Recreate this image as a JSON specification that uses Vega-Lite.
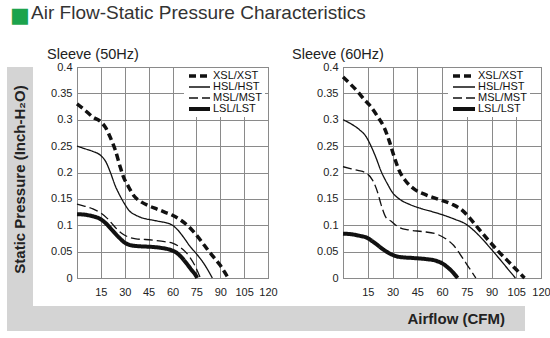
{
  "$schema": "https://vega.github.io/schema/vega-lite/v6.json",
  "padding": {"left": 7, "top": 4, "right": 0, "bottom": 5},
  "background": "white",
  "config": {"font": "Liberation Sans", "view": {"stroke": "#666"}},
  "title": {
    "text": "\u25a0",
    "subtitle": "\u200b\u00a0\u00a0\u00a0\u00a0Air Flow-Static Pressure Characteristics",
    "anchor": "start",
    "font": "DejaVu Sans",
    "fontSize": 21,
    "fontWeight": "normal",
    "color": "#1ca34c",
    "subtitleFont": "Liberation Sans",
    "subtitleFontSize": 19,
    "subtitleColor": "#333333",
    "subtitlePadding": -22,
    "offset": 19,
    "baseline": "top",
    "dx": 3
  },
  "datasets": {
    "curves": [
      {"panel": "50", "series": "XSL/XST", "airflow": 0, "pressure": 0.33},
      {"panel": "50", "series": "XSL/XST", "airflow": 5, "pressure": 0.318},
      {"panel": "50", "series": "XSL/XST", "airflow": 10, "pressure": 0.305},
      {"panel": "50", "series": "XSL/XST", "airflow": 15, "pressure": 0.296},
      {"panel": "50", "series": "XSL/XST", "airflow": 18, "pressure": 0.285},
      {"panel": "50", "series": "XSL/XST", "airflow": 21, "pressure": 0.266},
      {"panel": "50", "series": "XSL/XST", "airflow": 24, "pressure": 0.243},
      {"panel": "50", "series": "XSL/XST", "airflow": 27, "pressure": 0.212},
      {"panel": "50", "series": "XSL/XST", "airflow": 29, "pressure": 0.193},
      {"panel": "50", "series": "XSL/XST", "airflow": 32, "pressure": 0.175},
      {"panel": "50", "series": "XSL/XST", "airflow": 36, "pressure": 0.155},
      {"panel": "50", "series": "XSL/XST", "airflow": 40, "pressure": 0.145},
      {"panel": "50", "series": "XSL/XST", "airflow": 45, "pressure": 0.137},
      {"panel": "50", "series": "XSL/XST", "airflow": 50, "pressure": 0.131},
      {"panel": "50", "series": "XSL/XST", "airflow": 55, "pressure": 0.125},
      {"panel": "50", "series": "XSL/XST", "airflow": 60, "pressure": 0.119},
      {"panel": "50", "series": "XSL/XST", "airflow": 65, "pressure": 0.11},
      {"panel": "50", "series": "XSL/XST", "airflow": 70, "pressure": 0.098},
      {"panel": "50", "series": "XSL/XST", "airflow": 74, "pressure": 0.085},
      {"panel": "50", "series": "XSL/XST", "airflow": 78, "pressure": 0.07},
      {"panel": "50", "series": "XSL/XST", "airflow": 82, "pressure": 0.054},
      {"panel": "50", "series": "XSL/XST", "airflow": 86, "pressure": 0.039},
      {"panel": "50", "series": "XSL/XST", "airflow": 90, "pressure": 0.024},
      {"panel": "50", "series": "XSL/XST", "airflow": 93, "pressure": 0.01},
      {"panel": "50", "series": "XSL/XST", "airflow": 95, "pressure": 0},
      {"panel": "50", "series": "HSL/HST", "airflow": 0, "pressure": 0.25},
      {"panel": "50", "series": "HSL/HST", "airflow": 5, "pressure": 0.245},
      {"panel": "50", "series": "HSL/HST", "airflow": 10, "pressure": 0.24},
      {"panel": "50", "series": "HSL/HST", "airflow": 15, "pressure": 0.232},
      {"panel": "50", "series": "HSL/HST", "airflow": 18, "pressure": 0.221},
      {"panel": "50", "series": "HSL/HST", "airflow": 21, "pressure": 0.2},
      {"panel": "50", "series": "HSL/HST", "airflow": 24, "pressure": 0.175},
      {"panel": "50", "series": "HSL/HST", "airflow": 27, "pressure": 0.156},
      {"panel": "50", "series": "HSL/HST", "airflow": 30, "pressure": 0.14},
      {"panel": "50", "series": "HSL/HST", "airflow": 33, "pressure": 0.127},
      {"panel": "50", "series": "HSL/HST", "airflow": 37, "pressure": 0.119},
      {"panel": "50", "series": "HSL/HST", "airflow": 42, "pressure": 0.113},
      {"panel": "50", "series": "HSL/HST", "airflow": 47, "pressure": 0.11},
      {"panel": "50", "series": "HSL/HST", "airflow": 52, "pressure": 0.107},
      {"panel": "50", "series": "HSL/HST", "airflow": 57, "pressure": 0.104},
      {"panel": "50", "series": "HSL/HST", "airflow": 60, "pressure": 0.1},
      {"panel": "50", "series": "HSL/HST", "airflow": 63, "pressure": 0.092},
      {"panel": "50", "series": "HSL/HST", "airflow": 67, "pressure": 0.077},
      {"panel": "50", "series": "HSL/HST", "airflow": 71, "pressure": 0.06},
      {"panel": "50", "series": "HSL/HST", "airflow": 75, "pressure": 0.046},
      {"panel": "50", "series": "HSL/HST", "airflow": 80, "pressure": 0.026},
      {"panel": "50", "series": "HSL/HST", "airflow": 83, "pressure": 0.011},
      {"panel": "50", "series": "HSL/HST", "airflow": 85, "pressure": 0},
      {"panel": "50", "series": "MSL/MST", "airflow": 0, "pressure": 0.14},
      {"panel": "50", "series": "MSL/MST", "airflow": 5, "pressure": 0.136},
      {"panel": "50", "series": "MSL/MST", "airflow": 10, "pressure": 0.131},
      {"panel": "50", "series": "MSL/MST", "airflow": 15, "pressure": 0.123},
      {"panel": "50", "series": "MSL/MST", "airflow": 19, "pressure": 0.113},
      {"panel": "50", "series": "MSL/MST", "airflow": 22, "pressure": 0.103},
      {"panel": "50", "series": "MSL/MST", "airflow": 25, "pressure": 0.093},
      {"panel": "50", "series": "MSL/MST", "airflow": 28, "pressure": 0.085},
      {"panel": "50", "series": "MSL/MST", "airflow": 32, "pressure": 0.078},
      {"panel": "50", "series": "MSL/MST", "airflow": 37, "pressure": 0.074},
      {"panel": "50", "series": "MSL/MST", "airflow": 43, "pressure": 0.073},
      {"panel": "50", "series": "MSL/MST", "airflow": 50, "pressure": 0.071},
      {"panel": "50", "series": "MSL/MST", "airflow": 55, "pressure": 0.069},
      {"panel": "50", "series": "MSL/MST", "airflow": 60, "pressure": 0.066},
      {"panel": "50", "series": "MSL/MST", "airflow": 64, "pressure": 0.06},
      {"panel": "50", "series": "MSL/MST", "airflow": 68, "pressure": 0.05},
      {"panel": "50", "series": "MSL/MST", "airflow": 71, "pressure": 0.039},
      {"panel": "50", "series": "MSL/MST", "airflow": 74, "pressure": 0.024},
      {"panel": "50", "series": "MSL/MST", "airflow": 76, "pressure": 0.011},
      {"panel": "50", "series": "MSL/MST", "airflow": 77.5, "pressure": 0},
      {"panel": "50", "series": "LSL/LST", "airflow": 0, "pressure": 0.121},
      {"panel": "50", "series": "LSL/LST", "airflow": 5, "pressure": 0.12},
      {"panel": "50", "series": "LSL/LST", "airflow": 10, "pressure": 0.117},
      {"panel": "50", "series": "LSL/LST", "airflow": 14, "pressure": 0.113},
      {"panel": "50", "series": "LSL/LST", "airflow": 18, "pressure": 0.104},
      {"panel": "50", "series": "LSL/LST", "airflow": 22, "pressure": 0.091},
      {"panel": "50", "series": "LSL/LST", "airflow": 26, "pressure": 0.078},
      {"panel": "50", "series": "LSL/LST", "airflow": 30, "pressure": 0.067},
      {"panel": "50", "series": "LSL/LST", "airflow": 34, "pressure": 0.062},
      {"panel": "50", "series": "LSL/LST", "airflow": 40, "pressure": 0.06},
      {"panel": "50", "series": "LSL/LST", "airflow": 47, "pressure": 0.059},
      {"panel": "50", "series": "LSL/LST", "airflow": 53, "pressure": 0.057},
      {"panel": "50", "series": "LSL/LST", "airflow": 58, "pressure": 0.054},
      {"panel": "50", "series": "LSL/LST", "airflow": 62, "pressure": 0.049},
      {"panel": "50", "series": "LSL/LST", "airflow": 66, "pressure": 0.038},
      {"panel": "50", "series": "LSL/LST", "airflow": 69, "pressure": 0.027},
      {"panel": "50", "series": "LSL/LST", "airflow": 72, "pressure": 0.015},
      {"panel": "50", "series": "LSL/LST", "airflow": 75, "pressure": 0.003},
      {"panel": "50", "series": "LSL/LST", "airflow": 75.5, "pressure": 0},
      {"panel": "60", "series": "XSL/XST", "airflow": 0, "pressure": 0.381},
      {"panel": "60", "series": "XSL/XST", "airflow": 5, "pressure": 0.366},
      {"panel": "60", "series": "XSL/XST", "airflow": 9, "pressure": 0.353},
      {"panel": "60", "series": "XSL/XST", "airflow": 13, "pressure": 0.338},
      {"panel": "60", "series": "XSL/XST", "airflow": 16, "pressure": 0.328},
      {"panel": "60", "series": "XSL/XST", "airflow": 21, "pressure": 0.306},
      {"panel": "60", "series": "XSL/XST", "airflow": 25, "pressure": 0.285},
      {"panel": "60", "series": "XSL/XST", "airflow": 28, "pressure": 0.26},
      {"panel": "60", "series": "XSL/XST", "airflow": 31, "pressure": 0.23},
      {"panel": "60", "series": "XSL/XST", "airflow": 34, "pressure": 0.204},
      {"panel": "60", "series": "XSL/XST", "airflow": 38, "pressure": 0.184},
      {"panel": "60", "series": "XSL/XST", "airflow": 43, "pressure": 0.169},
      {"panel": "60", "series": "XSL/XST", "airflow": 50, "pressure": 0.158},
      {"panel": "60", "series": "XSL/XST", "airflow": 58, "pressure": 0.149},
      {"panel": "60", "series": "XSL/XST", "airflow": 66, "pressure": 0.14},
      {"panel": "60", "series": "XSL/XST", "airflow": 72, "pressure": 0.129},
      {"panel": "60", "series": "XSL/XST", "airflow": 77, "pressure": 0.113},
      {"panel": "60", "series": "XSL/XST", "airflow": 82, "pressure": 0.094},
      {"panel": "60", "series": "XSL/XST", "airflow": 88, "pressure": 0.072},
      {"panel": "60", "series": "XSL/XST", "airflow": 94, "pressure": 0.051},
      {"panel": "60", "series": "XSL/XST", "airflow": 100, "pressure": 0.032},
      {"panel": "60", "series": "XSL/XST", "airflow": 105, "pressure": 0.016},
      {"panel": "60", "series": "XSL/XST", "airflow": 110, "pressure": 0},
      {"panel": "60", "series": "HSL/HST", "airflow": 0, "pressure": 0.3},
      {"panel": "60", "series": "HSL/HST", "airflow": 5, "pressure": 0.292},
      {"panel": "60", "series": "HSL/HST", "airflow": 10, "pressure": 0.281},
      {"panel": "60", "series": "HSL/HST", "airflow": 14, "pressure": 0.268},
      {"panel": "60", "series": "HSL/HST", "airflow": 17, "pressure": 0.25},
      {"panel": "60", "series": "HSL/HST", "airflow": 20, "pressure": 0.228},
      {"panel": "60", "series": "HSL/HST", "airflow": 23, "pressure": 0.203},
      {"panel": "60", "series": "HSL/HST", "airflow": 27, "pressure": 0.178},
      {"panel": "60", "series": "HSL/HST", "airflow": 30, "pressure": 0.162},
      {"panel": "60", "series": "HSL/HST", "airflow": 34, "pressure": 0.15},
      {"panel": "60", "series": "HSL/HST", "airflow": 40, "pressure": 0.14},
      {"panel": "60", "series": "HSL/HST", "airflow": 48, "pressure": 0.131},
      {"panel": "60", "series": "HSL/HST", "airflow": 56, "pressure": 0.124},
      {"panel": "60", "series": "HSL/HST", "airflow": 62, "pressure": 0.118},
      {"panel": "60", "series": "HSL/HST", "airflow": 68, "pressure": 0.111},
      {"panel": "60", "series": "HSL/HST", "airflow": 74, "pressure": 0.103},
      {"panel": "60", "series": "HSL/HST", "airflow": 80, "pressure": 0.088},
      {"panel": "60", "series": "HSL/HST", "airflow": 85, "pressure": 0.072},
      {"panel": "60", "series": "HSL/HST", "airflow": 90, "pressure": 0.054},
      {"panel": "60", "series": "HSL/HST", "airflow": 96, "pressure": 0.032},
      {"panel": "60", "series": "HSL/HST", "airflow": 101, "pressure": 0.013},
      {"panel": "60", "series": "HSL/HST", "airflow": 104.5, "pressure": 0},
      {"panel": "60", "series": "MSL/MST", "airflow": 0, "pressure": 0.211},
      {"panel": "60", "series": "MSL/MST", "airflow": 5, "pressure": 0.207},
      {"panel": "60", "series": "MSL/MST", "airflow": 9, "pressure": 0.204},
      {"panel": "60", "series": "MSL/MST", "airflow": 14, "pressure": 0.199},
      {"panel": "60", "series": "MSL/MST", "airflow": 18, "pressure": 0.185},
      {"panel": "60", "series": "MSL/MST", "airflow": 21, "pressure": 0.162},
      {"panel": "60", "series": "MSL/MST", "airflow": 23, "pressure": 0.14},
      {"panel": "60", "series": "MSL/MST", "airflow": 26, "pressure": 0.115},
      {"panel": "60", "series": "MSL/MST", "airflow": 29, "pressure": 0.108},
      {"panel": "60", "series": "MSL/MST", "airflow": 34, "pressure": 0.096},
      {"panel": "60", "series": "MSL/MST", "airflow": 40, "pressure": 0.091},
      {"panel": "60", "series": "MSL/MST", "airflow": 48, "pressure": 0.088},
      {"panel": "60", "series": "MSL/MST", "airflow": 56, "pressure": 0.084},
      {"panel": "60", "series": "MSL/MST", "airflow": 62, "pressure": 0.075},
      {"panel": "60", "series": "MSL/MST", "airflow": 67, "pressure": 0.062},
      {"panel": "60", "series": "MSL/MST", "airflow": 71, "pressure": 0.045},
      {"panel": "60", "series": "MSL/MST", "airflow": 75, "pressure": 0.026},
      {"panel": "60", "series": "MSL/MST", "airflow": 78, "pressure": 0.012},
      {"panel": "60", "series": "MSL/MST", "airflow": 80.5, "pressure": 0},
      {"panel": "60", "series": "LSL/LST", "airflow": 0, "pressure": 0.084},
      {"panel": "60", "series": "LSL/LST", "airflow": 5, "pressure": 0.083},
      {"panel": "60", "series": "LSL/LST", "airflow": 10, "pressure": 0.08},
      {"panel": "60", "series": "LSL/LST", "airflow": 14, "pressure": 0.077},
      {"panel": "60", "series": "LSL/LST", "airflow": 19, "pressure": 0.067},
      {"panel": "60", "series": "LSL/LST", "airflow": 24, "pressure": 0.055},
      {"panel": "60", "series": "LSL/LST", "airflow": 28, "pressure": 0.047},
      {"panel": "60", "series": "LSL/LST", "airflow": 34, "pressure": 0.04},
      {"panel": "60", "series": "LSL/LST", "airflow": 42, "pressure": 0.038},
      {"panel": "60", "series": "LSL/LST", "airflow": 50, "pressure": 0.036},
      {"panel": "60", "series": "LSL/LST", "airflow": 56, "pressure": 0.033},
      {"panel": "60", "series": "LSL/LST", "airflow": 60, "pressure": 0.028},
      {"panel": "60", "series": "LSL/LST", "airflow": 63.5, "pressure": 0.02},
      {"panel": "60", "series": "LSL/LST", "airflow": 66.5, "pressure": 0.011},
      {"panel": "60", "series": "LSL/LST", "airflow": 69.5, "pressure": 0}
    ]
  },
  "spacing": 0,
  "vconcat": [
    {
      "spacing": 13,
      "resolve": {
        "scale": {"strokeDash": "independent", "strokeWidth": "independent"},
        "legend": {"strokeDash": "independent", "strokeWidth": "independent"}
      },
      "hconcat": [
        {
          "width": 26,
          "height": 239,
          "view": {"fill": "#d4d4d4", "stroke": null},
          "data": {"values": [{"label": "Static Pressure (Inch-H\u2082O)"}]},
          "mark": {"type": "text", "angle": 270, "fontSize": 15, "fontWeight": "bold", "color": "#222222", "align": "center", "baseline": "middle", "dx": 7},
          "encoding": {"text": {"field": "label", "type": "nominal"}}
        },
        {
          "width": 191,
          "height": 211,
          "title": {"text": "Sleeve (50Hz)", "anchor": "start", "fontSize": 14.5, "fontWeight": "normal", "color": "#222222", "offset": -1},
          "data": {"name": "curves"},
          "transform": [{"filter": "datum.panel == '50'"}],
          "mark": {"type": "line", "interpolate": "monotone", "color": "#111111"},
          "encoding": {
            "x": {"field": "airflow", "type": "quantitative", "scale": {"domain": [0, 120], "nice": false},
              "axis": {"values": [0, 15, 30, 45, 60, 75, 90, 105, 120], "labelExpr": "datum.value == 0 ? '' : datum.label", "title": null, "ticks": false, "domain": false, "labelFlush": false, "labelPadding": 8, "gridColor": "#8a8a8a", "gridOpacity": 1, "labelFontSize": 11, "labelColor": "#222222"}},
            "y": {"field": "pressure", "type": "quantitative", "scale": {"domain": [0, 0.4], "nice": false},
              "axis": {"values": [0, 0.05, 0.1, 0.15, 0.2, 0.25, 0.3, 0.35, 0.4], "format": "~g", "title": null, "ticks": false, "domain": false, "labelPadding": 5, "gridColor": "#8a8a8a", "gridOpacity": 1, "labelFontSize": 11, "labelColor": "#222222", "minExtent": 30}},
            "strokeDash": {"field": "series", "type": "nominal",
              "scale": {"type": "ordinal", "domain": ["XSL/XST", "HSL/HST", "MSL/MST", "LSL/LST"], "range": [[7, 4], [1, 0], [9, 4], [1, 0]]},
              "legend": {"title": null, "orient": "none", "legendX": 107, "legendY": 1, "fillColor": "white", "padding": 3, "symbolType": "stroke", "symbolSize": 441, "symbolStrokeColor": "#111111", "clipHeight": 10, "labelFontSize": 11, "labelColor": "#111111", "labelOffset": 1, "rowPadding": 0}},
            "strokeWidth": {"field": "series", "type": "nominal",
              "scale": {"type": "ordinal", "domain": ["XSL/XST", "HSL/HST", "MSL/MST", "LSL/LST"], "range": [3.5, 1.3, 1.3, 4]},
              "legend": {"title": null, "orient": "none", "legendX": 107, "legendY": 1, "fillColor": "white", "padding": 3, "symbolType": "stroke", "symbolSize": 441, "symbolStrokeColor": "#111111", "clipHeight": 10, "labelFontSize": 11, "labelColor": "#111111", "labelOffset": 1, "rowPadding": 0}}
          }
        },
        {
          "width": 198,
          "height": 211,
          "title": {"text": "Sleeve (60Hz)", "anchor": "start", "fontSize": 14.5, "fontWeight": "normal", "color": "#222222", "offset": -1},
          "data": {"name": "curves"},
          "transform": [{"filter": "datum.panel == '60'"}],
          "mark": {"type": "line", "interpolate": "monotone", "color": "#111111"},
          "encoding": {
            "x": {"field": "airflow", "type": "quantitative", "scale": {"domain": [0, 120], "nice": false},
              "axis": {"values": [0, 15, 30, 45, 60, 75, 90, 105, 120], "labelExpr": "datum.value == 0 ? '' : datum.label", "title": null, "ticks": false, "domain": false, "labelFlush": false, "labelPadding": 8, "gridColor": "#8a8a8a", "gridOpacity": 1, "labelFontSize": 11, "labelColor": "#222222"}},
            "y": {"field": "pressure", "type": "quantitative", "scale": {"domain": [0, 0.4], "nice": false},
              "axis": {"values": [0, 0.05, 0.1, 0.15, 0.2, 0.25, 0.3, 0.35, 0.4], "format": "~g", "title": null, "ticks": false, "domain": false, "labelPadding": 5, "gridColor": "#8a8a8a", "gridOpacity": 1, "labelFontSize": 11, "labelColor": "#222222", "minExtent": 51}},
            "strokeDash": {"field": "series", "type": "nominal",
              "scale": {"type": "ordinal", "domain": ["XSL/XST", "HSL/HST", "MSL/MST", "LSL/LST"], "range": [[7, 4], [1, 0], [9, 4], [1, 0]]},
              "legend": {"title": null, "orient": "none", "legendX": 105, "legendY": 1, "fillColor": "white", "padding": 3, "symbolType": "stroke", "symbolSize": 484, "symbolStrokeColor": "#111111", "clipHeight": 10, "labelFontSize": 11, "labelColor": "#111111", "labelOffset": 1, "rowPadding": 0}},
            "strokeWidth": {"field": "series", "type": "nominal",
              "scale": {"type": "ordinal", "domain": ["XSL/XST", "HSL/HST", "MSL/MST", "LSL/LST"], "range": [3.5, 1.3, 1.3, 4]},
              "legend": {"title": null, "orient": "none", "legendX": 105, "legendY": 1, "fillColor": "white", "padding": 3, "symbolType": "stroke", "symbolSize": 484, "symbolStrokeColor": "#111111", "clipHeight": 10, "labelFontSize": 11, "labelColor": "#111111", "labelOffset": 1, "rowPadding": 0}}
          }
        }
      ]
    },
    {
      "width": 518,
      "height": 25,
      "view": {"fill": "#d4d4d4", "stroke": null},
      "data": {"values": [{"label": "Airflow (CFM)"}]},
      "mark": {"type": "text", "align": "right", "baseline": "middle", "fontSize": 15, "fontWeight": "bold", "color": "#222222", "dx": -20},
      "encoding": {"text": {"field": "label", "type": "nominal"}, "x": {"value": "width"}}
    }
  ]
}
